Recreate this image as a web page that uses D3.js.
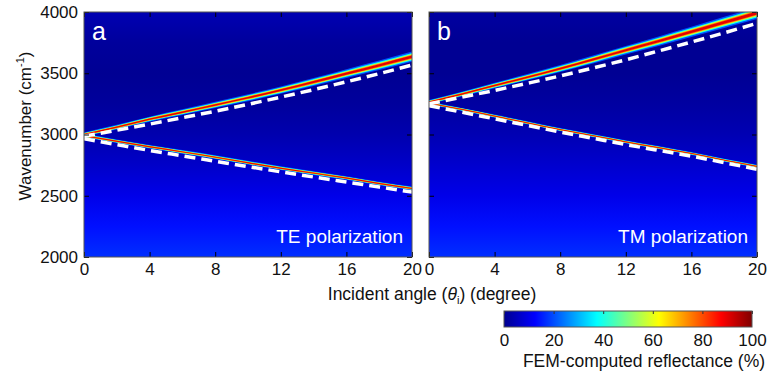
<!DOCTYPE html>
<html>
<head>
<meta charset="utf-8">
<script src="https://cdn.jsdelivr.net/npm/d3@7"></script>
<style>
  body { margin: 0; background: #fff; }
  text { font-family: "Liberation Sans", Arial, sans-serif; fill: #111; }
</style>
</head>
<body>
<svg id="chart" width="769" height="377"></svg>
<script>
// sampled incident angles (degree)
const angles = [0, 2, 4, 6, 8, 10, 12, 14, 16, 18, 20];

// TE polarization (panel a) - resonance peaks and dashed model, cm-1
const teUpper = [3000, 3060, 3125, 3182, 3241, 3300, 3362, 3428, 3497, 3565, 3635];
const teUpperModel = [2985, 3035, 3085, 3137, 3190, 3246, 3305, 3366, 3430, 3497, 3567];
const teLower = [2990, 2945, 2900, 2858, 2815, 2770, 2725, 2685, 2645, 2600, 2560];
const teLowerModel = [2965, 2917, 2870, 2826, 2782, 2738, 2695, 2653, 2612, 2571, 2530];
// resonance linewidth (cm-1)
const teUpperWidth = [18, 20, 22, 25, 27, 30, 32, 35, 38, 41, 44];
const teLowerWidth = [16, 16, 16, 16, 16, 16, 16, 16, 16, 16, 16];

// TM polarization (panel b)
const tmUpper = [3265, 3330, 3400, 3468, 3538, 3612, 3688, 3762, 3838, 3915, 3992];
const tmUpperModel = [3250, 3305, 3360, 3418, 3478, 3543, 3610, 3682, 3755, 3830, 3908];
const tmLower = [3255, 3205, 3150, 3095, 3040, 2990, 2940, 2893, 2845, 2790, 2740];
const tmLowerModel = [3235, 3182, 3128, 3074, 3020, 2969, 2918, 2870, 2823, 2770, 2716];
const tmUpperWidth = [18, 21, 24, 27, 30, 34, 37, 41, 44, 48, 52];
const tmLowerWidth = [13, 13, 13, 13, 13, 13, 13, 13, 13, 13, 13];

// background reflectance (%) against wavenumber
const bgWavenumber = [2000, 2250, 2500, 2750, 3000, 3250, 3500, 3750, 4000];
const bgTE = [17, 14, 10, 6.5, 3.5, 1.5, 0.5, 1.5, 4];
const bgTM = [17, 14, 10, 7, 4, 2, 0.5, 0.5, 2];

const xTicks = [0, 4, 8, 12, 16, 20];
const yTicks = [2000, 2500, 3000, 3500, 4000];
const cbTicks = [0, 20, 40, 60, 80, 100];

const jetDomain = [0, 12.5, 37.5, 62.5, 87.5, 100];
const jetColors = ['#00008f', '#0000ff', '#00ffff', '#ffff00', '#ff0000', '#800000'];
const jet = d3.scaleLinear().domain(jetDomain).range(jetColors).clamp(true);

const svg = d3.select('#chart');
const defs = svg.append('defs');

const plotTop = 12, plotBottom = 257, panelW = 328;
const y = d3.scaleLinear().domain([2000, 4000]).range([plotBottom, plotTop]);

const peak = 95;
const levels = [8, 25, 45, 65, 82];
const levelColor = [20, 38, 58, 75, 90];
// half width (cm-1) of a gaussian peak above a reflectance level
const halfWidth = (w, t) => w / 2 * Math.sqrt(Math.log(peak / t) / Math.LN2);

const panels = [
  {id: 'a', left: 84, name: 'TE polarization', bg: bgTE,
   branches: [[teUpper, teUpperWidth], [teLower, teLowerWidth]],
   models: [teUpperModel, teLowerModel]},
  {id: 'b', left: 429, name: 'TM polarization', bg: bgTM,
   branches: [[tmUpper, tmUpperWidth], [tmLower, tmLowerWidth]],
   models: [tmUpperModel, tmLowerModel]}
];

panels.forEach((p, pi) => {
  const x = d3.scaleLinear().domain([0, 20]).range([p.left, p.left + panelW]);
  const g = svg.append('g');

  defs.append('clipPath').attr('id', 'clip-' + p.id)
    .append('rect').attr('x', p.left).attr('y', plotTop)
    .attr('width', panelW).attr('height', plotBottom - plotTop);

  const grad = defs.append('linearGradient').attr('id', 'bg-' + p.id)
    .attr('gradientUnits', 'userSpaceOnUse')
    .attr('x1', 0).attr('x2', 0).attr('y1', y(2000)).attr('y2', y(4000));
  bgWavenumber.forEach((w, i) => {
    grad.append('stop').attr('offset', (w - 2000) / 2000).attr('stop-color', jet(p.bg[i]));
  });

  const plot = g.append('g').attr('clip-path', `url(#clip-${p.id})`);
  plot.append('rect').attr('x', p.left).attr('y', plotTop)
    .attr('width', panelW).attr('height', plotBottom - plotTop)
    .attr('fill', `url(#bg-${p.id})`);

  p.branches.forEach(([vals, widths]) => {
    const data = angles.map((a, i) => ({a, v: vals[i], w: widths[i]}));
    levels.forEach((t, li) => {
      const area = d3.area()
        .x(d => x(d.a))
        .y0(d => y(d.v - halfWidth(d.w, t)))
        .y1(d => y(d.v + halfWidth(d.w, t)))
        .curve(d3.curveMonotoneX);
      plot.append('path').datum(data).attr('d', area).attr('fill', jet(levelColor[li]));
    });
  });

  p.models.forEach(vals => {
    const data = angles.map((a, i) => ({a, v: vals[i]}));
    const line = d3.line().x(d => x(d.a)).y(d => y(d.v)).curve(d3.curveMonotoneX);
    plot.append('path').datum(data).attr('d', line)
      .attr('fill', 'none').attr('stroke', '#fff')
      .attr('stroke-width', 3.5).attr('stroke-dasharray', '11,6');
  });

  // ticks on four sides, pointing inward
  g.append('g').attr('transform', `translate(0,${plotBottom})`)
    .call(d3.axisBottom(x).tickValues(xTicks).tickSize(-5).tickPadding(6).tickFormat(d3.format('d')));
  g.append('g').attr('transform', `translate(0,${plotTop})`)
    .call(d3.axisTop(x).tickValues(xTicks).tickSize(-5).tickFormat(''));
  g.append('g').attr('transform', `translate(${p.left},0)`)
    .call(d3.axisLeft(y).tickValues(yTicks).tickSize(-5).tickPadding(6)
      .tickFormat(pi === 0 ? d3.format('d') : ''));
  g.append('g').attr('transform', `translate(${p.left + panelW},0)`)
    .call(d3.axisRight(y).tickValues(yTicks).tickSize(-5).tickFormat(''));

  g.selectAll('.domain').remove();
  g.selectAll('.tick line').attr('stroke', '#000');
  g.selectAll('.tick text').style('font-size', '17px').attr('fill', '#111');

  g.append('rect').attr('x', p.left).attr('y', plotTop)
    .attr('width', panelW).attr('height', plotBottom - plotTop)
    .attr('fill', 'none').attr('stroke', '#555').attr('stroke-width', 1);

  g.append('text').attr('x', p.left + 8).attr('y', 40)
    .style('font-size', '25px').style('fill', '#fff').text(p.id);
  g.append('text').attr('x', p.left + panelW - 9).attr('y', 243)
    .attr('text-anchor', 'end').style('font-size', '19px').style('fill', '#fff').text(p.name);
});

// axis titles
const yTitle = svg.append('text').attr('transform', 'translate(31,126) rotate(-90)')
  .attr('text-anchor', 'middle').style('font-size', '17px');
yTitle.append('tspan').text('Wavenumber (cm');
yTitle.append('tspan').attr('dy', -7).style('font-size', '11px').text('-1');
yTitle.append('tspan').attr('dy', 7).text(')');

const xTitle = svg.append('text').attr('x', 432).attr('y', 300)
  .attr('text-anchor', 'middle').style('font-size', '17.5px');
xTitle.append('tspan').text('Incident angle (');
xTitle.append('tspan').style('font-style', 'italic').text('θ');
xTitle.append('tspan').attr('dy', 4).style('font-size', '11px').text('i');
xTitle.append('tspan').attr('dy', -4).text(') (degree)');

// colour bar
const cbX = d3.scaleLinear().domain([0, 100]).range([504, 752]);
const cbTop = 311, cbBottom = 327;
const cbGrad = defs.append('linearGradient').attr('id', 'cb')
  .attr('x1', 0).attr('x2', 1).attr('y1', 0).attr('y2', 0);
jetDomain.forEach((d, i) => {
  cbGrad.append('stop').attr('offset', d / 100).attr('stop-color', jetColors[i]);
});
svg.append('rect').attr('x', cbX(0)).attr('y', cbTop)
  .attr('width', cbX(100) - cbX(0)).attr('height', cbBottom - cbTop)
  .attr('fill', 'url(#cb)');
const cb = svg.append('g');
cb.append('g').attr('transform', `translate(0,${cbBottom})`)
  .call(d3.axisBottom(cbX).tickValues(cbTicks).tickSize(0).tickPadding(7));
cb.append('g').attr('transform', `translate(0,${cbTop})`)
  .call(d3.axisTop(cbX).tickValues(cbTicks).tickSize(-3).tickFormat(''));
cb.selectAll('.domain').remove();
cb.selectAll('.tick line').attr('stroke', '#333');
cb.selectAll('.tick text').style('font-size', '17px').attr('fill', '#111');
svg.append('rect').attr('x', cbX(0)).attr('y', cbTop)
  .attr('width', cbX(100) - cbX(0)).attr('height', cbBottom - cbTop)
  .attr('fill', 'none').attr('stroke', '#555');
svg.append('text').attr('x', 644).attr('y', 367).attr('text-anchor', 'middle')
  .style('font-size', '17.5px').text('FEM-computed reflectance (%)');
</script>
</body>
</html>
